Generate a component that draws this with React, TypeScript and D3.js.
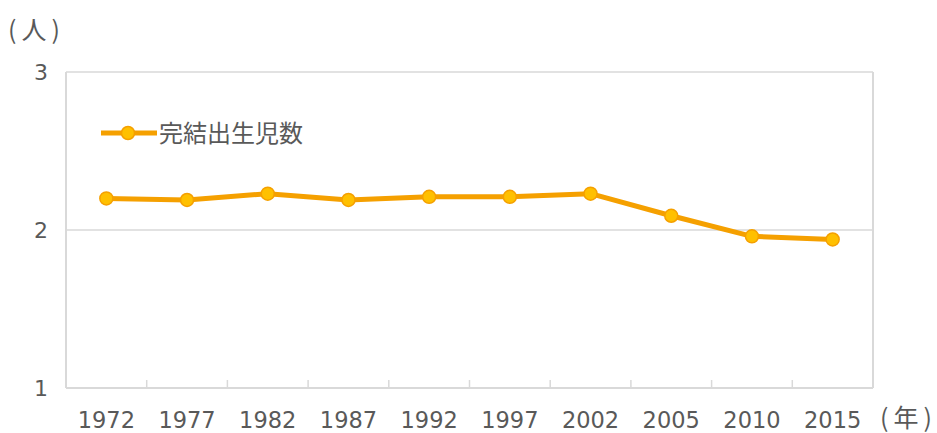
import React from "react";
import * as d3 from "d3";

const years = ["1972", "1977", "1982", "1987", "1992", "1997", "2002", "2005", "2010", "2015"];
const values = [2.2, 2.19, 2.23, 2.19, 2.21, 2.21, 2.23, 2.09, 1.96, 1.94];
const yTicks = [1, 2, 3];
const seriesName = "完結出生児数";

const W = 937;
const H = 433;
const M = { left: 66, right: 873, top: 72, bottom: 388 };
const numFont = "'DejaVu Sans', Verdana, sans-serif";
const cjkFont = "'Noto Sans CJK JP', sans-serif";
const textColor = "#595959";
const gridColor = "#d9d9d9";
const lineColor = "#F5A000";
const markerFill = "#FFC000";

export default function App() {
  const x = d3.scaleBand<string>().domain(years).range([M.left, M.right]).padding(0);
  const y = d3.scaleLinear().domain([1, 3]).range([M.bottom, M.top]);
  const cx = (d: string) => (x(d) as number) + x.bandwidth() / 2;
  const line = d3
    .line<number>()
    .x((_, i) => cx(years[i]))
    .y((v) => y(v));

  return (
    <svg width={W} height={H} style={{ position: "absolute", left: 0, top: 0 }}>
      <rect width={W} height={H} fill="#fff" />
      {yTicks.map((t) => (
        <g key={t}>
          <line x1={M.left} x2={M.right} y1={y(t)} y2={y(t)} stroke={gridColor} strokeWidth={1.5} />
          <text x={41} y={y(t)} dy="0.36em" textAnchor="middle" fontFamily={numFont} fontSize={22} fill={textColor}>
            {t}
          </text>
        </g>
      ))}
      <line x1={M.left} x2={M.left} y1={M.top} y2={M.bottom} stroke={gridColor} strokeWidth={2} />
      <line x1={M.right} x2={M.right} y1={M.top} y2={M.bottom} stroke={gridColor} strokeWidth={2} />
      <line x1={M.left} x2={M.right} y1={M.bottom} y2={M.bottom} stroke={gridColor} strokeWidth={2} />
      {years.slice(1).map((yr) => (
        <line key={yr} x1={x(yr)} x2={x(yr)} y1={M.bottom - 8} y2={M.bottom} stroke={gridColor} strokeWidth={1.5} />
      ))}
      {years.map((yr) => (
        <text key={yr} x={cx(yr)} y={420} dy="0.36em" textAnchor="middle" fontFamily={numFont} fontSize={22.5} fill={textColor}>
          {yr}
        </text>
      ))}
      <text x={8} y={30} dy="0.36em" fontFamily={cjkFont} fontSize={25} letterSpacing={5} fill={textColor}>(人)</text>
      <text x={880} y={418} dy="0.36em" fontFamily={cjkFont} fontSize={25} letterSpacing={5} fill={textColor}>(年)</text>
      <path d={line(values) || ""} fill="none" stroke={lineColor} strokeWidth={5} strokeLinejoin="round" />
      {values.map((v, i) => (
        <circle key={i} cx={cx(years[i])} cy={y(v)} r={6.5} fill={markerFill} stroke={lineColor} strokeWidth={1.5} />
      ))}
      <line x1={101} x2={157} y1={133} y2={133} stroke={lineColor} strokeWidth={5} />
      <circle cx={128} cy={133} r={6.5} fill={markerFill} stroke={lineColor} strokeWidth={1.5} />
      <text x={159} y={133} dy="0.36em" fontFamily={cjkFont} fontSize={24} fill={textColor}>
        {seriesName}
      </text>
    </svg>
  );
}
